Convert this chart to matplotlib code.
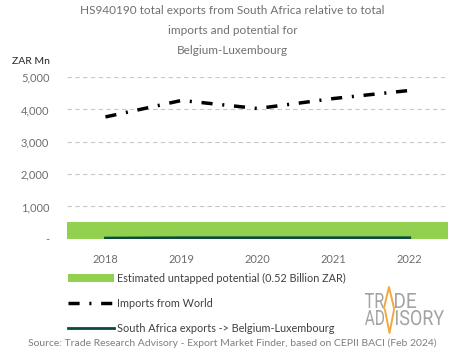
import matplotlib.pyplot as plt
import numpy as np
from matplotlib.textpath import TextPath
from matplotlib.patches import PathPatch
from matplotlib.font_manager import FontProperties
from matplotlib.transforms import Affine2D

# data
years = ['2018', '2019', '2020', '2021', '2022']
imports_world = [3770, 4280, 4030, 4340, 4590]
sa_exports = [20, 30, 30, 30, 30]
potential = 520   # ZAR Mn, estimated untapped potential
yticks = [0, 1000, 2000, 3000, 4000, 5000]
ytick_labels = ['-', '1,000', '2,000', '3,000', '4,000', '5,000']

plt.rcParams['font.family'] = ['Lato', 'DejaVu Sans']

W, H = 465, 359
fig = plt.figure(figsize=(W / 100, H / 100), dpi=100)
ax = fig.add_axes([0.145, 0.335, 0.818, 0.45])

x = np.arange(len(years))
ax.fill_between([-0.5, len(years) - 0.5], 0, potential, color='#92d050', lw=0,
                label='Estimated untapped potential (0.52 Billion ZAR)', zorder=2)
ax.plot(x, imports_world, color='black', lw=2.5, dashes=[3.2, 2.8, 0.6, 2.8],
        label='Imports from World', zorder=3)
ax.plot(x, sa_exports, color='#0b4a3f', lw=2, label='South Africa exports -> Belgium-Luxembourg', zorder=3)

ax.set_xlim(-0.5, len(years) - 0.5)
ax.set_ylim(0, 5000)
ax.set_yticks(yticks)
ax.set_yticklabels(ytick_labels)
ax.set_xticks(x)
ax.set_xticklabels(years)
for yv in yticks[1:]:
    ax.axhline(yv, color='#c8c8c8', lw=0.8, ls=(0, (4, 3)), zorder=1)
for s in ax.spines.values():
    s.set_visible(False)
ax.tick_params(length=0, labelsize=8, colors='#6e6e6e', pad=11)
ax.tick_params(axis='y', pad=13)

fig.text(0.5, 0.985, 'HS940190 total exports from South Africa relative to total\nimports and potential for\nBelgium-Luxembourg',
         ha='center', va='top', fontsize=8.5, color='#707070', linespacing=2.0)
fig.text(0.025, 0.822, 'ZAR Mn', fontsize=7.5, color='#262626')

handles, labels = ax.get_legend_handles_labels()
fig.legend(handles, labels, loc='upper left', bbox_to_anchor=(0.135, 0.255), frameon=False,
           fontsize=7.8, labelcolor='#404040', handlelength=4.2, handletextpad=0.3,
           labelspacing=1.3, borderpad=0)

fig.text(0.5, 0.03, 'Source: Trade Research Advisory - Export Market Finder, based on CEPII BACI (Feb 2024)',
         ha='center', va='bottom', fontsize=7.5, color='#7f7f7f')

# LOGO (drawn in pixel coords on a blank overlay axes)
###############################################################################
lax = fig.add_axes([0, 0, 1, 1], zorder=-1)
lax.set_xlim(0, W)
lax.set_ylim(0, H)
lax.axis('off')

gray = '#a3a3a3'
orange = '#f2a93b'
fp = FontProperties(family='Roboto', weight='normal')


def logo_word(txt, x0, width, top, base):   # top/base in pixels from top of image
    p = TextPath((0, 0), txt, size=20, prop=fp)
    ext = p.get_extents()
    sx = width / ext.width
    sy = (base - top) / ext.ymax
    tr = Affine2D().translate(-ext.xmin, 0).scale(sx, sy).translate(x0, H - base)
    lax.add_patch(PathPatch(tr.transform_path(p), color=gray, lw=0))


logo_word('TR', 365, 19, 293, 308)
logo_word('DE', 395, 21, 293, 308)
logo_word('AD', 365, 19, 310, 325)
logo_word('ISORY', 396, 48, 310, 325)
lax.plot([384, 389, 394], [H - 308, H - 287, H - 308], color=orange, lw=1.4)
lax.plot([385, 389.5, 394], [H - 310, H - 333, H - 310], color=orange, lw=1.4)
###############################################################################

fig.savefig('out.png', dpi=100)
